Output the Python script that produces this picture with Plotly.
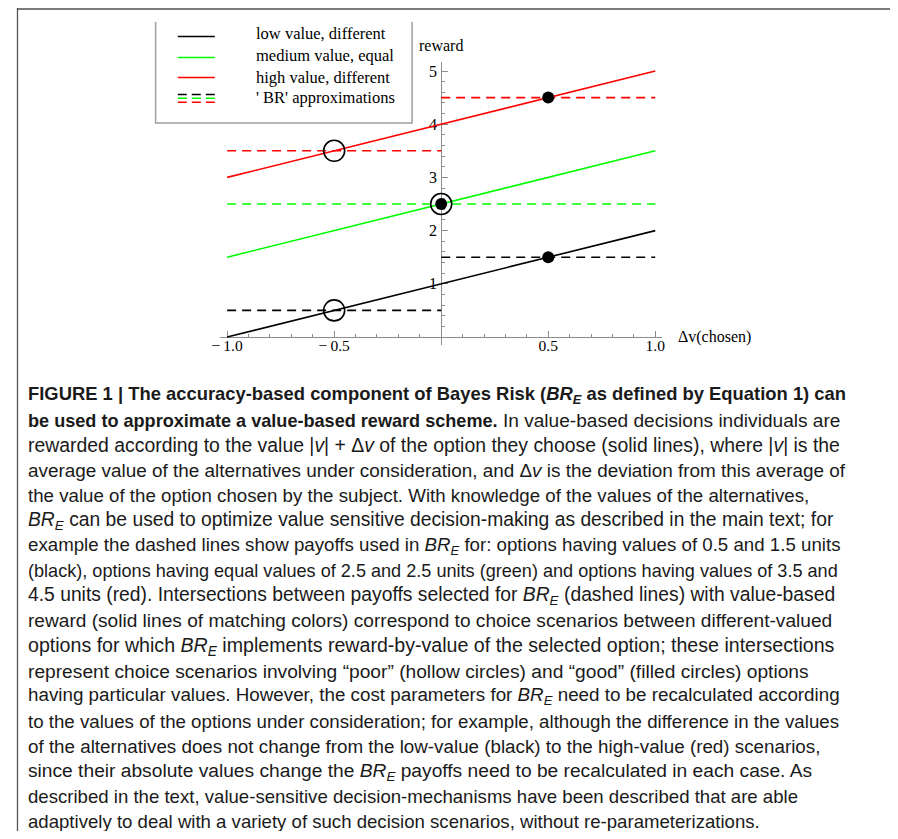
import plotly.graph_objects as go

# ---------------- data ----------------
dv = [-1.0, 1.0]
low_reward = [0.0, 2.0]
medium_reward = [1.5, 3.5]
high_reward = [3.0, 5.0]

br_left_x = [-1.0, 0.0]
br_right_x = [0.0, 1.0]
br_all_x = [-1.0, 1.0]
low_br_poor = 0.5
low_br_good = 1.5
medium_br = 2.5
high_br_poor = 3.5
high_br_good = 4.5

hollow_x = [-0.5, -0.5, 0.0]
hollow_y = [0.5, 3.5, 2.5]
filled_x = [0.5, 0.5, 0.0]
filled_y = [1.5, 4.5, 2.5]

x_tickvals = [-1.0, -0.5, 0.5, 1.0]
x_ticktext = ["\u2212\u20091.0", "\u2212\u20090.5", "0.5", "1.0"]
y_tickvals = [1, 2, 3, 4, 5]
y_ticktext = ["1", "2", "3", "4", "5"]

legend_labels = ["low value, different", "medium value, equal",
                 "high value, different", "' BR' approximations"]
legend_colors = ["#000000", "#00ff00", "#ff0000"]


def bold(txt, size):
    return f'<span style="font-size:{size}px"><b>{txt}</b></span>'


caption_lines = [
    bold("FIGURE 1 | The accuracy-based component of Bayes Risk (<i>BR<sub>E</sub></i> as defined by Equation 1) can", 18.4),
    bold("be used to approximate a value-based reward scheme.", 18.1) + " In value-based decisions individuals are",
    "rewarded according to the value |<i>v</i>| + \u0394<i>v</i> of the option they choose (solid lines), where |<i>v</i>| is the",
    "average value of the alternatives under consideration, and \u0394<i>v</i> is the deviation from this average of",
    "the value of the option chosen by the subject. With knowledge of the values of the alternatives,",
    "<i>BR<sub>E</sub></i> can be used to optimize value sensitive decision-making as described in the main text; for",
    "example the dashed lines show payoffs used in <i>BR<sub>E</sub></i> for: options having values of 0.5 and 1.5 units",
    "(black), options having equal values of 2.5 and 2.5 units (green) and options having values of 3.5 and",
    "4.5 units (red). Intersections between payoffs selected for <i>BR<sub>E</sub></i> (dashed lines) with value-based",
    "reward (solid lines of matching colors) correspond to choice scenarios between different-valued",
    "options for which <i>BR<sub>E</sub></i> implements reward-by-value of the selected option; these intersections",
    "represent choice scenarios involving \u201cpoor\u201d (hollow circles) and \u201cgood\u201d (filled circles) options",
    "having particular values. However, the cost parameters for <i>BR<sub>E</sub></i> need to be recalculated according",
    "to the values of the options under consideration; for example, although the difference in the values",
    "of the alternatives does not change from the low-value (black) to the high-value (red) scenarios,",
    "since their absolute values change the <i>BR<sub>E</sub></i> payoffs need to be recalculated in each case. As",
    "described in the text, value-sensitive decision-mechanisms have been described that are able",
    "adaptively to deal with a variety of such decision scenarios, without re-parameterizations.",
]
# per-line font sizes (style) so each caption line spans the same width as in the reference
caption_sizes = [19.4, 19.1, 19.4, 18.9, 18.7, 19.3, 18.7, 18.1, 19.3,
                 19.1, 19.6, 19.2, 18.8, 18.7, 18.8, 19.2, 18.6, 18.6]

# ---------------- layout constants ----------------
OFFX, OFFY = 12, 8
W, H = 889, 823
SERIF = "Liberation Serif"
CAP_FONT = "Liberation Sans, Arial"


def px(x):
    return (x - OFFX) / W


def py(y):
    return 1 - (y - OFFY) / H


LW = 1.6
DASH = "9px,6px"

fig = go.Figure()

for yv, col in zip([low_reward, medium_reward, high_reward], legend_colors):
    fig.add_trace(go.Scatter(x=dv, y=yv, mode="lines",
                             line=dict(color=col, width=LW), showlegend=False,
                             hoverinfo="skip"))

br_segments = [
    (br_left_x, low_br_poor, legend_colors[0]),
    (br_right_x, low_br_good, legend_colors[0]),
    (br_all_x, medium_br, legend_colors[1]),
    (br_left_x, high_br_poor, legend_colors[2]),
    (br_right_x, high_br_good, legend_colors[2]),
]
for xs, level, col in br_segments:
    fig.add_trace(go.Scatter(x=xs, y=[level, level], mode="lines",
                             line=dict(color=col, width=LW, dash=DASH),
                             showlegend=False, hoverinfo="skip"))

fig.add_trace(go.Scatter(x=hollow_x, y=hollow_y, mode="markers",
                         marker=dict(symbol="circle-open", size=21, color="black",
                                     line=dict(width=1.6, color="black")),
                         showlegend=False, hoverinfo="skip"))
fig.add_trace(go.Scatter(x=filled_x, y=filled_y, mode="markers",
                         marker=dict(symbol="circle", size=12, color="black"),
                         showlegend=False, hoverinfo="skip"))

# axis geometry (reference pixels)
X0PIX, XUNIT = 442, 217
Y0PIX, YUNIT = 337, 53.2
XL, XR = 218, 666
YB, YT = 345, 62

AXCOL = "#8c8c8c"
fig.update_layout(
    width=W, height=H,
    margin=dict(l=0, r=0, t=0, b=0),
    paper_bgcolor="white", plot_bgcolor="white",
    xaxis=dict(
        domain=[px(XL), px(XR)],
        range=[(XL - X0PIX) / XUNIT, (XR - X0PIX) / XUNIT],
        anchor="free", position=py(Y0PIX), side="bottom", layer="below traces",
        showgrid=False, zeroline=False, showline=True, linecolor=AXCOL, linewidth=1,
        ticks="inside", ticklen=6, tickwidth=1, tickcolor=AXCOL,
        tickvals=x_tickvals, ticktext=x_ticktext,
        tickfont=dict(family=SERIF, size=15.5, color="black"),
        ticklabelstandoff=-6,
        minor=dict(ticks="inside", dtick=0.1, tick0=0, ticklen=3, tickcolor=AXCOL, showgrid=False),
    ),
    yaxis=dict(
        domain=[py(YB), py(YT)],
        range=[(Y0PIX - YB) / YUNIT, (Y0PIX - YT) / YUNIT],
        anchor="free", position=px(X0PIX), side="left", layer="below traces",
        showgrid=False, zeroline=False, showline=True, linecolor=AXCOL, linewidth=1,
        ticks="inside", ticklen=6, tickwidth=1, tickcolor=AXCOL,
        tickvals=y_tickvals, ticktext=y_ticktext,
        tickfont=dict(family=SERIF, size=16, color="black"),
        ticklabelstandoff=1,
        minor=dict(ticks="inside", dtick=0.2, tick0=0, ticklen=3, tickcolor=AXCOL, showgrid=False),
    ),
)

annotations = []
shapes = []

annotations.append(dict(text="reward", xref="x", yref="paper", x=0, y=py(45),
                        xanchor="center", yanchor="middle", showarrow=False,
                        font=dict(family=SERIF, size=16, color="black")))
annotations.append(dict(text="\u0394v(chosen)", xref="paper", yref="paper", x=px(680), y=py(337),
                        xanchor="left", yanchor="middle", showarrow=False,
                        font=dict(family=SERIF, size=16, color="black")))

# legend box (top edge cut off)
shapes.append(dict(type="path", xref="paper", yref="paper",
                   path=f"M {px(152.5)} {py(22)} L {px(152.5)} {py(123)} L {px(412.5)} {py(123)} L {px(412.5)} {py(22)}",
                   line=dict(color="#a0a0a0", width=1.5)))

for col, yy in zip(legend_colors, [36.5, 57.5, 77.5]):
    shapes.append(dict(type="line", xref="paper", yref="paper",
                       x0=px(175), x1=px(212.5), y0=py(yy), y1=py(yy),
                       line=dict(color=col, width=LW)))
for col, yy in zip(legend_colors, [94.5, 98.3, 102.3]):
    shapes.append(dict(type="line", xref="paper", yref="paper",
                       x0=px(175), x1=px(212.5), y0=py(yy), y1=py(yy),
                       line=dict(color=col, width=1.6, dash="9px,5px")))
for lab, yy in zip(legend_labels, [34, 55.5, 77, 98]):
    annotations.append(dict(text=lab, xref="paper", yref="paper", x=px(252), y=py(yy),
                            xanchor="left", yanchor="middle", showarrow=False,
                            font=dict(family=SERIF, size=16.5, color="black")))

# figure frame (bottom cut off)
shapes.append(dict(type="line", xref="paper", yref="paper", x0=px(12), x1=px(898.5),
                   y0=py(9), y1=py(9), line=dict(color="#7a7a7a", width=2)))
shapes.append(dict(type="line", xref="paper", yref="paper", x0=px(12.5), x1=px(12.5),
                   y0=py(8), y1=py(845), line=dict(color="#555555", width=1.3)))
shapes.append(dict(type="line", xref="paper", yref="paper", x0=px(898.5), x1=px(898.5),
                   y0=py(8), y1=py(845), line=dict(color="#555555", width=1.3)))

for i, (line, sz) in enumerate(zip(caption_lines, caption_sizes)):
    annotations.append(dict(text=line, xref="paper", yref="paper", x=px(21), y=py(395 + 25.1 * i),
                            xanchor="left", yanchor="middle", showarrow=False, align="left",
                            font=dict(family=CAP_FONT, size=sz, color="#1a1a1a")))

fig.update_layout(annotations=annotations, shapes=shapes)
fig.write_html("out.html")
